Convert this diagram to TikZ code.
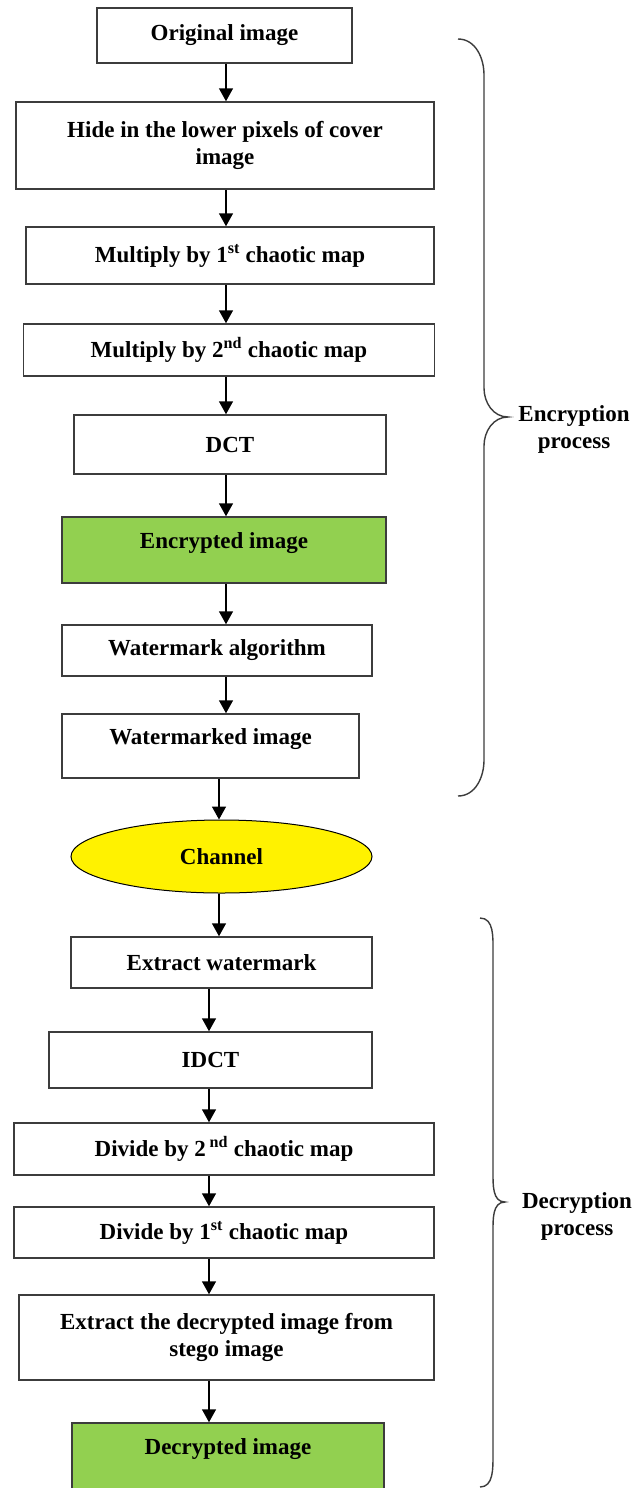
\documentclass[tikz,border=0pt]{standalone}
\usepackage{fontspec}
\setmainfont{Liberation Serif}
\usetikzlibrary{arrows.meta,shapes.geometric}
\definecolor{boxgreen}{RGB}{146,208,80}
\definecolor{edgegrey}{RGB}{60,60,60}

\begin{document}
\begin{tikzpicture}[x = 1pt, y = -1pt, align = center,
        font = \fontsize{23}{27}\selectfont\bfseries,
        block/.style = {draw = edgegrey, line width = 1.5pt, inner sep = 0pt},
        greenblock/.style = {block, fill = boxgreen, anchor = base},
        arr/.style = {line width = 1.5pt, -{Triangle[length = 13pt, width = 14pt]}},
        brace/.style = {draw = edgegrey, line width = 1.4pt}]
        \clip (0, 0) rectangle (632, 1488);
        \fill[white] (0, 0) rectangle (632, 1488);

        % encryption
        \node[block, minimum width = 255pt, minimum height = 55pt] (orig) at (224.5, 35.5) {Original image};
        \node[block, minimum width = 418pt, minimum height = 87pt] (hide) at (225, 145.5) {Hide in the lower pixels of cover \\ image};
        \node[block, minimum width = 408pt, minimum height = 57pt] (mult1) at (230, 255.5) {Multiply by 1\textsuperscript{st} chaotic map};
        \node[block, minimum width = 411pt, minimum height = 52pt] (mult2) at (229, 350) {Multiply by 2\textsuperscript{nd} chaotic map};
        \node[block, minimum width = 312pt, minimum height = 59pt] (dct) at (230, 444.5) {DCT};
        \node[greenblock, minimum width = 324pt, text height = 31pt, text depth = 35pt] (enc) at (224, 548) {Encrypted image};
        \node[block, minimum width = 310pt, minimum height = 51pt] (wmalg) at (217, 650.5) {Watermark algorithm};
        \node[block, anchor = base, minimum width = 297pt, text height = 30pt, text depth = 34pt] (wmimg) at (210.5, 744) {Watermarked image};

        \node[ellipse, draw, fill = yellow, line width = 1pt, inner sep = 0pt,
            minimum width = 301pt, minimum height = 73pt] (channel) at (221.5, 856.5) {Channel};

        % decryption
        \node[block, minimum width = 301pt, minimum height = 51pt] (extwm) at (221.5, 962.5) {Extract watermark};
        \node[block, minimum width = 323pt, minimum height = 56pt] (idct) at (210.5, 1060) {IDCT};
        \node[block, minimum width = 420pt, minimum height = 52pt] (div2) at (224, 1149) {Divide by 2\,\textsuperscript{nd} chaotic map};
        \node[block, minimum width = 420pt, minimum height = 51pt] (div1) at (224, 1232.5) {Divide by 1\textsuperscript{st} chaotic map};
        \node[block, minimum width = 415pt, minimum height = 85pt] (extdec) at (226.5, 1337.5) {Extract the decrypted image from \\ stego image};
        \node[greenblock, minimum width = 312pt, text height = 31pt, text depth = 60pt] (dec) at (228, 1454) {Decrypted image};

        \coordinate (upper) at (226, 0);
        \coordinate (mid) at (219, 0);
        \coordinate (lower) at (209, 0);
        \foreach \a/\b in {orig/hide, hide/mult1, mult1/mult2, mult2/dct, dct/enc, enc/wmalg, wmalg/wmimg}
            \draw[arr] (\a.south -| upper) -- (\b.north -| upper);
        \draw[arr] (wmimg.south -| mid) -- (channel.north -| mid);
        \draw[arr] (channel.south -| mid) -- (extwm.north -| mid);
        \foreach \a/\b in {extwm/idct, idct/div2, div2/div1, div1/extdec, extdec/dec}
            \draw[arr] (\a.south -| lower) -- (\b.north -| lower);

        % braces
        \draw[brace] (458, 39) to [out = 0, in = 90] (484, 75) -- (484, 388)
            to [out = -90, in = 180] (508, 417) to [out = 180, in = 90] (484, 446)
            -- (484, 760) to [out = -90, in = 0] (458, 796);
        \node (enclabel) at (574, 429) {Encryption \\ process};

        \draw[brace] (480, 918) to [out = 0, in = 90] (493, 952) -- (493, 1172)
            to [out = -90, in = 180] (505, 1202) to [out = 180, in = 90] (493, 1232)
            -- (493, 1455) to [out = -90, in = 0] (480, 1487);
        \node (declabel) at (577, 1216) {Decryption \\ process};
    \end{tikzpicture}
\end{document}
